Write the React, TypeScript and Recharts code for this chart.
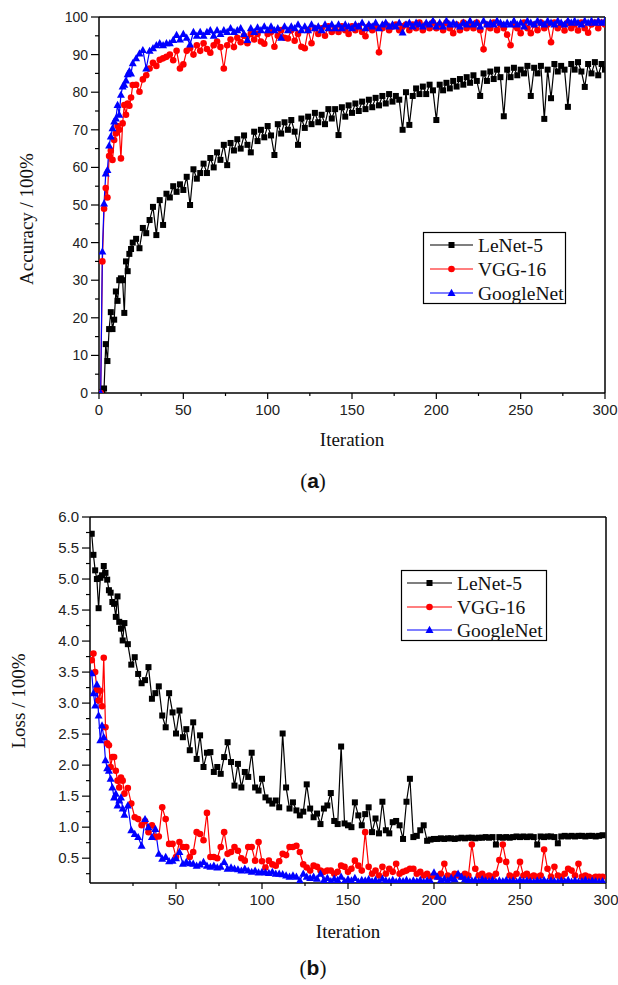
import React from 'react';
import { LineChart, Line, XAxis, YAxis, ReferenceLine } from 'recharts';

const SANS = "'Liberation Sans', Arial, sans-serif";
const SERIF = "'Liberation Serif', 'Times New Roman', serif";

// iteration of each sample (every step up to 20, then every second step)
const iterations = [
  1, 2, 3, 4, 5, 6, 7, 8, 9, 10,
  11, 12, 13, 14, 15, 16, 17, 18, 19, 20,
  22, 24, 26, 28, 30, 32, 34, 36, 38, 40,
  42, 44, 46, 48, 50, 52, 54, 56, 58, 60,
  62, 64, 66, 68, 70, 72, 74, 76, 78, 80,
  82, 84, 86, 88, 90, 92, 94, 96, 98, 100,
  102, 104, 106, 108, 110, 112, 114, 116, 118, 120,
  122, 124, 126, 128, 130, 132, 134, 136, 138, 140,
  142, 144, 146, 148, 150, 152, 154, 156, 158, 160,
  162, 164, 166, 168, 170, 172, 174, 176, 178, 180,
  182, 184, 186, 188, 190, 192, 194, 196, 198, 200,
  202, 204, 206, 208, 210, 212, 214, 216, 218, 220,
  222, 224, 226, 228, 230, 232, 234, 236, 238, 240,
  242, 244, 246, 248, 250, 252, 254, 256, 258, 260,
  262, 264, 266, 268, 270, 272, 274, 276, 278, 280,
  282, 284, 286, 288, 290, 292, 294, 296, 298, 300,
];

// (a) accuracy
const lenetAcc = [
  0, 0.3, 1.2, 13, 8.5, 17, 21.5, 17, 19.5, 27,
  24.5, 30, 30.5, 30, 21.3, 35, 32.4, 37, 38.3, 40,
  41, 38.5, 43.9, 42.5, 46, 49.5, 42, 51.3, 44.7, 53,
  52, 55, 53.5, 55.5, 54, 57.5, 50, 59.5, 57, 58.5,
  61, 58.5, 62.5, 60, 64, 62, 66, 60.6, 66.5, 64.5,
  67.5, 65, 68.5, 66, 64, 69.5, 67, 70, 68, 71,
  68.5, 63.3, 71.5, 69, 72, 70, 72.6, 69.5, 66, 73,
  70.5, 73.5, 71.5, 74.5, 72, 74, 71.5, 75.5, 73, 75.5,
  68.6, 76, 73.5, 76.5, 74.5, 77, 75, 77.5, 75.5, 78,
  76, 78.5, 76.5, 79, 77, 79.5, 77.5, 79, 78, 70,
  80, 71.3, 79, 81, 79.5, 81.5, 79.5, 82, 80.5, 72.6,
  82, 80.5, 82.5, 81, 83, 81.5, 83.5, 82, 84, 82.5,
  84.5, 83, 79, 85, 83, 85.5, 83.5, 86, 84, 73.6,
  86, 84, 86.5, 84.5, 86, 85, 87, 79, 86.5, 85,
  87, 72.9, 86, 78.4, 87.5, 85.5, 87, 86, 76.1, 87.5,
  86, 88, 85.5, 81.4, 87.5, 85, 88, 84.5, 87.5, 86,
];

const vggAcc = [
  0, 35, 49, 54.5, 52, 63, 64.4, 62, 67.3, 69,
  71, 70, 62.4, 71.7, 76.6, 74, 77, 76.4, 78.6, 81.9,
  82, 80.1, 83.4, 84.5, 86.3, 87.8, 87, 88.6, 89, 89.4,
  90, 88.5, 91, 86.3, 87.4, 91, 91.7, 90, 92.5, 91,
  93, 91.5, 90.5, 92.5, 93.5, 92, 86.3, 92.5, 94, 92,
  94.5, 93.3, 95, 93, 95.5, 94, 95.5, 93.5, 92.9, 95.5,
  96, 92.1, 95, 96.5, 94.5, 94.3, 96.5, 93.7, 95.5, 92.1,
  91.7, 96.5, 93, 97, 95.5, 97, 95, 97.5, 96, 97,
  96, 97.5, 96.5, 95.5, 97.5, 96.5, 97.5, 96, 94.9, 97.5,
  96.5, 97.5, 90.6, 97, 98, 96.5, 97.5, 98, 96.5, 97.5,
  98, 96.5, 98, 97, 98.5, 96.5, 98, 97, 98.5, 97,
  98, 96.5, 98.5, 97, 95.7, 98, 96.5, 98.5, 97, 98,
  97, 98.5, 96.5, 91.4, 98, 97, 98.5, 96.5, 98, 97,
  95.3, 92.5, 98, 97, 95.7, 98.5, 97, 95.7, 98, 96.5,
  98.5, 97, 98, 93.3, 98.5, 97, 98, 96.4, 98.5, 97,
  98, 96.4, 98.5, 97, 95.8, 98, 98.5, 97, 98.5, 98,
];

const googleAcc = [
  0, 37.6, 50.4, 58.4, 59.3, 65.8, 68.2, 70.4, 72.2, 73,
  76.6, 74, 79.3, 81.5, 82, 83.1, 84.8, 85.6, 85, 87.7,
  89, 90.3, 91.2, 86.3, 91, 91.7, 92.5, 93, 92.5, 93,
  93, 93.9, 95.2, 94, 95.5, 94.5, 92.7, 96, 95, 96,
  95, 96, 96.5, 95, 96.5, 95.5, 96.5, 96, 97, 96,
  96.5, 97, 95.5, 93.9, 97, 96, 97.2, 96.5, 97.5, 96.5,
  97.5, 96.5, 97, 94.5, 97.5, 96.5, 97.5, 97, 98, 96.5,
  97.5, 96.5, 98, 97, 97.5, 96.5, 98, 97, 98, 97,
  98, 97, 98, 97.5, 97, 98, 97.5, 98.5, 97, 98,
  97.5, 98.5, 97, 98, 98.5, 97.5, 98, 97.5, 98.5, 95.9,
  98, 98.5, 97.5, 98.5, 98, 97.5, 98.5, 98, 99, 97.5,
  98.5, 97.5, 99, 98, 98.5, 98, 97.5, 98.5, 98, 99,
  98, 98.5, 97.5, 99, 98, 98.5, 98, 99, 98.5, 98,
  98.5, 98, 99, 98, 98.5, 97.5, 99, 98.5, 98, 99,
  98.5, 98, 99, 98.5, 98, 99, 98.5, 98, 99, 98.5,
  99, 98.5, 98, 99, 98.5, 99, 98.5, 99, 98.5, 99,
];

// (b) loss
const lenetLoss = [
  5.73, 5.39, 5.14, 5.0, 4.53, 5.02, 5.06, 5.21, 5.1, 4.99,
  4.82, 4.78, 4.63, 4.6, 4.39, 4.72, 4.31, 4.2, 4.01, 4.29,
  3.95, 3.62, 3.74, 3.47, 3.32, 3.37, 3.58, 3.07, 3.16, 3.27,
  2.8, 2.61, 3.16, 2.85, 2.51, 2.88, 2.45, 2.58, 2.24, 2.69,
  2.1, 2.48, 1.97, 2.2, 2.21, 1.89, 1.97, 1.86, 2.13, 2.37,
  2.05, 1.67, 2.02, 1.64, 1.89, 1.81, 2.2, 1.64, 1.59, 1.78,
  1.48, 1.43, 1.38, 1.43, 1.32, 2.51, 1.64, 1.3, 1.4, 1.27,
  1.19, 1.25, 1.69, 1.3, 1.16, 1.22, 1.05, 1.3, 1.35, 1.55,
  1.1, 1.05, 2.3, 1.06, 1.03, 1.0, 1.4, 1.19, 1.03, 1.21,
  1.32, 0.92, 1.14, 0.9, 1.41, 0.95, 0.9, 1.08, 1.1, 1.03,
  0.81, 1.41, 1.78, 0.84, 0.86, 0.95, 1.03, 0.78, 0.8, 0.81,
  0.81, 0.82, 0.81, 0.82, 0.82, 0.81, 0.82, 0.83, 0.82, 0.83,
  0.83, 0.82, 0.83, 0.83, 0.84, 0.83, 0.84, 0.72, 0.84, 0.83,
  0.84, 0.83, 0.84, 0.85, 0.84, 0.85, 0.84, 0.85, 0.84, 0.72,
  0.85, 0.84, 0.85, 0.85, 0.84, 0.74, 0.85, 0.86, 0.85, 0.86,
  0.85, 0.86, 0.86, 0.85, 0.86, 0.86, 0.85, 0.86, 0.87, null,
];

const vggLoss = [
  3.69, 3.8, 3.5, 3.22, 3.04, 3.2, 2.95, 3.73, 2.61, 2.35,
  2.32, 1.97, 2.13, 2.13, 1.91, 1.75, 1.64, 1.8, 1.75, 1.54,
  1.63, 1.38, 1.16, 1.13, 1.03, 1.1, 0.92, 1.03, 0.84, 0.85,
  1.32, 1.13, 0.73, 0.73, 0.52, 0.76, 0.68, 0.68, 0.52, 0.6,
  0.92, 0.89, 0.79, 1.23, 0.52, 0.52, 0.5, 0.68, 0.92, 0.57,
  0.6, 0.68, 0.62, 0.5, 0.46, 0.68, 0.68, 0.46, 0.76, 0.45,
  0.35, 0.46, 0.4, 0.38, 0.45, 0.57, 0.55, 0.68, 0.68, 0.7,
  0.6, 0.4, 0.35, 0.3, 0.38, 0.36, 0.3, 0.28, 0.3, 0.3,
  0.25, 0.28, 0.38, 0.36, 0.28, 0.33, 0.46, 0.38, 0.3, 0.92,
  0.36, 0.25, 0.3, 0.22, 0.36, 0.25, 0.33, 0.28, 0.41, 0.25,
  0.28, 0.3, 0.33, 0.33, 0.25, 0.28, 0.22, 0.25, 0.2, 0.22,
  0.2, 0.25, 0.41, 0.22, 0.2, 0.25, 0.22, 0.2, 0.25, 0.22,
  0.72, 0.33, 0.22, 0.25, 0.2, 0.22, 0.2, 0.25, 0.47, 0.72,
  0.44, 0.22, 0.2, 0.25, 0.44, 0.22, 0.25, 0.2, 0.22, 0.2,
  0.22, 0.64, 0.33, 0.2, 0.36, 0.22, 0.2, 0.25, 0.33, 0.3,
  0.22, 0.41, 0.2, 0.22, 0.2, 0.18, 0.2, 0.2, 0.2, null,
];

const googleLoss = [
  3.48, 3.16, 2.96, 3.3, 2.8, 2.4, 2.64, 2.45, 2.08, 1.95,
  1.91, 1.78, 1.64, 1.48, 1.54, 1.35, 1.43, 1.48, 1.3, 1.2,
  1.35, 0.95, 0.89, 0.84, 0.7, 1.13, 1.0, 0.84, 0.97, 0.57,
  0.49, 0.52, 0.45, 0.46, 0.5, 0.6, 0.41, 0.44, 0.42, 0.41,
  0.38, 0.4, 0.44, 0.38, 0.36, 0.38, 0.35, 0.36, 0.44, 0.33,
  0.35, 0.33, 0.32, 0.3, 0.33, 0.3, 0.28, 0.3, 0.27, 0.28,
  0.27, 0.26, 0.28, 0.25, 0.25, 0.24, 0.22, 0.2, 0.22, 0.2,
  0.14, 0.25, 0.2, 0.18, 0.2, 0.17, 0.25, 0.15, 0.18, 0.13,
  0.17, 0.15, 0.2, 0.13, 0.16, 0.14, 0.18, 0.12, 0.15, 0.14,
  0.16, 0.13, 0.15, 0.12, 0.17, 0.14, 0.13, 0.15, 0.12, 0.14,
  0.13, 0.15, 0.12, 0.14, 0.13, 0.15, 0.12, 0.14, 0.13, 0.27,
  0.2, 0.15, 0.17, 0.14, 0.18, 0.16, 0.25, 0.2, 0.16, 0.15,
  0.14, 0.15, 0.13, 0.16, 0.14, 0.13, 0.15, 0.12, 0.14, 0.13,
  0.15, 0.13, 0.14, 0.12, 0.15, 0.13, 0.14, 0.13, 0.12, 0.14,
  0.13, 0.15, 0.12, 0.14, 0.13, 0.12, 0.14, 0.13, 0.15, 0.12,
  0.14, 0.12, 0.13, 0.15, 0.12, 0.14, 0.13, 0.12, 0.13, null,
];

const seriesNames = ['LeNet-5', 'VGG-16', 'GoogleNet'];
const iterTicks = [0, 25, 50, 75, 100, 125, 150, 175, 200, 225, 250, 275, 300];
const iterTicksB = [25, 50, 75, 100, 125, 150, 175, 200, 225, 250, 275, 300];
const accTicks = [0, 5, 10, 15, 20, 25, 30, 35, 40, 45, 50, 55, 60, 65, 70, 75, 80, 85, 90, 95, 100];
const lossTicks = [
  0.25, 0.5, 0.75, 1.0, 1.25, 1.5, 1.75, 2.0, 2.25, 2.5, 2.75, 3.0,
  3.25, 3.5, 3.75, 4.0, 4.25, 4.5, 4.75, 5.0, 5.25, 5.5, 5.75, 6.0,
];

const accData = iterations.map((it, i) => ({
  it, lenet: lenetAcc[i], vgg: vggAcc[i], google: googleAcc[i],
}));
const lossData = iterations.map((it, i) => ({
  it, lenet: lenetLoss[i], vgg: vggLoss[i], google: googleLoss[i],
}));

const BLACK = '#000000';
const RED = '#ff0000';
const BLUE = '#0000ff';

const square = (p: any) => {
  if (p.cx == null || p.cy == null) return <g key={`sq-${p.index}`} />;
  return <rect key={`sq-${p.index}`} x={p.cx - 3} y={p.cy - 3} width={6} height={6} fill={BLACK} />;
};
const circle = (p: any) => {
  if (p.cx == null || p.cy == null) return <g key={`ci-${p.index}`} />;
  return <circle key={`ci-${p.index}`} cx={p.cx} cy={p.cy} r={3.3} fill={RED} />;
};
const triangle = (p: any) => {
  if (p.cx == null || p.cy == null) return <g key={`tr-${p.index}`} />;
  const { cx, cy } = p;
  return (
    <path key={`tr-${p.index}`} d={`M${cx},${cy - 4.2}L${cx + 4},${cy + 3}L${cx - 4},${cy + 3}Z`} fill={BLUE} />
  );
};

const makeXTick = (showZero: boolean) => (p: any) => {
  const v = p.payload.value;
  const major = v % 50 === 0;
  return (
    <g key={`xt-${v}`}>
      <line x1={p.x} x2={p.x} y1={p.y} y2={p.y + (major ? 6 : 3)} stroke="#000" strokeWidth={1.2} />
      {major && (showZero || v !== 0) && (
        <text x={p.x} y={p.y + 22} textAnchor="middle" fontSize={15} fontFamily={SANS} fill="#222">
          {v}
        </text>
      )}
    </g>
  );
};

const accTick = (p: any) => {
  const v = p.payload.value;
  const major = v % 10 === 0;
  return (
    <g key={`ya-${v}`}>
      <line x1={p.x - (major ? 8 : 4)} x2={p.x} y1={p.y} y2={p.y} stroke="#000" strokeWidth={1.2} />
      {major && (
        <text x={p.x - 11} y={p.y + 5} textAnchor="end" fontSize={14} fontFamily={SANS} fill="#222">
          {v}
        </text>
      )}
    </g>
  );
};

const lossTick = (p: any) => {
  const v = p.payload.value;
  const major = Math.round(v * 100) % 50 === 0;
  return (
    <g key={`yl-${v}`}>
      <line x1={p.x - (major ? 8 : 4)} x2={p.x} y1={p.y} y2={p.y} stroke="#000" strokeWidth={1.2} />
      {major && (
        <text x={p.x - 11} y={p.y + 5} textAnchor="end" fontSize={15} fontFamily={SANS} fill="#222">
          {v.toFixed(1)}
        </text>
      )}
    </g>
  );
};

function LegendBox({ left, top, width, height, rows, lineX, lineLen, textX }: any) {
  const mx = lineX + lineLen / 2;
  const markers = [
    <rect key="m0" x={mx - 3} y={rows[0] - 3} width={6} height={6} fill={BLACK} />,
    <circle key="m1" cx={mx} cy={rows[1]} r={3.3} fill={RED} />,
    <path key="m2" d={`M${mx},${rows[2] - 4.2}L${mx + 4},${rows[2] + 3}L${mx - 4},${rows[2] + 3}Z`} fill={BLUE} />,
  ];
  const colors = [BLACK, RED, BLUE];
  return (
    <svg width={width} height={height} style={{ position: 'absolute', left, top, overflow: 'visible' }}>
      <rect x={0.5} y={0.5} width={width - 1} height={height - 1} fill="#fff" stroke="#000" strokeWidth={1.2} />
      {seriesNames.map((name, i) => (
        <g key={name}>
          <line x1={lineX} x2={lineX + lineLen} y1={rows[i]} y2={rows[i]} stroke={colors[i]} strokeWidth={1.2} />
          {markers[i]}
          <text x={textX} y={rows[i] + 6.5} fontSize={19.5} fontFamily={SERIF} fill="#111">
            {name}
          </text>
        </g>
      ))}
    </svg>
  );
}

const axisLine = { stroke: '#000', strokeWidth: 1.5 };

export default function App() {
  return (
    <div style={{ position: 'absolute', left: 0, top: 0, width: 618, height: 985, background: '#fff' }}>
      {/* (a) accuracy */}
      <div style={{ position: 'absolute', left: 0, top: 0 }}>
        <LineChart width={618} height={425} data={accData} margin={{ top: 17, right: 13, left: 39, bottom: 0 }}>
          <XAxis
            dataKey="it"
            type="number"
            domain={[0, 300]}
            ticks={iterTicks}
            interval={0}
            tick={makeXTick(true)}
            tickLine={false}
            tickSize={0}
            tickMargin={0}
            height={32}
            axisLine={axisLine}
            allowDataOverflow
          />
          <YAxis
            type="number"
            domain={[0, 100]}
            ticks={accTicks}
            interval={0}
            tick={accTick}
            tickLine={false}
            tickSize={0}
            tickMargin={0}
            width={60}
            axisLine={axisLine}
            allowDataOverflow
          />
          <ReferenceLine y={100} stroke="#000" strokeWidth={1.5} />
          <ReferenceLine x={300} stroke="#000" strokeWidth={1.5} />
          <Line dataKey="lenet" stroke={BLACK} strokeWidth={1.2} dot={square} isAnimationActive={false} />
          <Line dataKey="vgg" stroke={RED} strokeWidth={1.2} dot={circle} isAnimationActive={false} />
          <Line dataKey="google" stroke={BLUE} strokeWidth={1.2} dot={triangle} isAnimationActive={false} />
        </LineChart>
      </div>
      <div
        style={{
          position: 'absolute', left: 27, top: 219, transform: 'translate(-50%, -50%) rotate(-90deg)',
          fontFamily: SERIF, fontSize: 19, color: '#111', whiteSpace: 'nowrap',
        }}
      >
        Accuracy / 100%
      </div>
      <div
        style={{
          position: 'absolute', left: 352, top: 440, transform: 'translate(-50%, -50%)',
          fontFamily: SERIF, fontSize: 19, color: '#111', whiteSpace: 'nowrap',
        }}
      >
        Iteration
      </div>
      <div
        style={{
          position: 'absolute', left: 313, top: 481, transform: 'translate(-50%, -50%)',
          fontFamily: SERIF, fontSize: 21, color: '#111', whiteSpace: 'nowrap',
        }}
      >
        (<span style={{ fontFamily: SANS, fontWeight: 700 }}>a</span>)
      </div>
      <LegendBox left={423} top={232} width={143} height={72} rows={[13, 37, 61]} lineX={7} lineLen={43} textX={55} />

      {/* (b) loss */}
      <div style={{ position: 'absolute', left: 0, top: 490 }}>
        <LineChart width={618} height={430} data={lossData} margin={{ top: 27, right: 12, left: 30, bottom: 0 }}>
          <XAxis
            dataKey="it"
            type="number"
            domain={[0, 300]}
            ticks={iterTicksB}
            interval={0}
            tick={makeXTick(false)}
            tickLine={false}
            tickSize={0}
            tickMargin={0}
            height={37}
            axisLine={axisLine}
            allowDataOverflow
          />
          <YAxis
            type="number"
            domain={[0.1, 6]}
            ticks={lossTicks}
            interval={0}
            tick={lossTick}
            tickLine={false}
            tickSize={0}
            tickMargin={0}
            width={60}
            axisLine={axisLine}
            allowDataOverflow
          />
          <ReferenceLine y={6} stroke="#000" strokeWidth={1.5} />
          <ReferenceLine x={300} stroke="#000" strokeWidth={1.5} />
          <Line dataKey="lenet" stroke={BLACK} strokeWidth={1.2} dot={square} isAnimationActive={false} />
          <Line dataKey="vgg" stroke={RED} strokeWidth={1.2} dot={circle} isAnimationActive={false} />
          <Line dataKey="google" stroke={BLUE} strokeWidth={1.2} dot={triangle} isAnimationActive={false} />
        </LineChart>
      </div>
      <div
        style={{
          position: 'absolute', left: 19, top: 701, transform: 'translate(-50%, -50%) rotate(-90deg)',
          fontFamily: SERIF, fontSize: 19, color: '#111', whiteSpace: 'nowrap',
        }}
      >
        Loss / 100%
      </div>
      <div
        style={{
          position: 'absolute', left: 348, top: 932, transform: 'translate(-50%, -50%)',
          fontFamily: SERIF, fontSize: 19, color: '#111', whiteSpace: 'nowrap',
        }}
      >
        Iteration
      </div>
      <div
        style={{
          position: 'absolute', left: 313, top: 968, transform: 'translate(-50%, -50%)',
          fontFamily: SERIF, fontSize: 21, color: '#111', whiteSpace: 'nowrap',
        }}
      >
        (<span style={{ fontFamily: SANS, fontWeight: 700 }}>b</span>)
      </div>
      <LegendBox left={401} top={570} width={146} height={71} rows={[13, 37, 60]} lineX={6} lineLen={45} textX={56} />
    </div>
  );
}
